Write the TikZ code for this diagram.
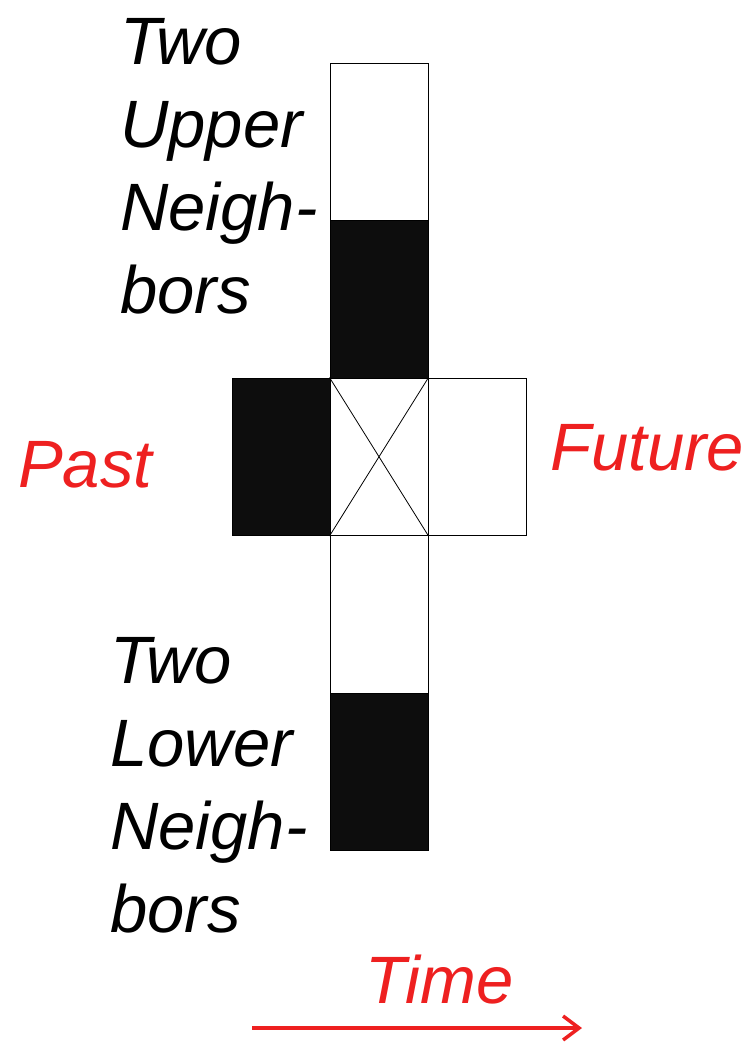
\documentclass[tikz,border=0pt]{standalone}
\usepackage{fontspec}
\setmainfont{Liberation Sans}
\usetikzlibrary{arrows.meta}

\definecolor{timered}{RGB}{238,32,32}
\tikzset{
  cell/.style={draw,line width=1pt,minimum width=98pt,minimum height=157.5pt,inner sep=0pt},
  filled/.style={cell,fill=black!95},
  word/.style={font=\fontsize{67}{83}\selectfont\itshape,inner sep=0pt,align=left},
  redword/.style={word,text=timered}
}

\begin{document}
\begin{tikzpicture}[x=1pt,y=-1pt]
  \useasboundingbox[fill=white] (0,0) rectangle (754,1044);

  % the column of cells
  \node[cell]   (up2)  at (379,141.75) {};
  \node[filled] (up1)  at (379,299.25) {};
  \node[cell]   (now)  at (379,456.75) {};
  \node[cell]   (lo1)  at (379,614.25) {};
  \node[filled] (lo2)  at (379,771.75) {};
  % past and future
  \node[filled] (past)   at (281,456.75) {};
  \node[cell]   (future) at (477,456.75) {};
  \draw[line width=.8pt] (now.north west) -- (now.south east)
                         (now.north east) -- (now.south west);

  % labels (base = last line)
  \node[word,anchor=base west] (uplab) at (120,313) {Two\\Upper\\Neigh-\\bors};
  \node[word,anchor=base west] (lolab) at (110,932) {Two\\Lower\\Neigh-\\bors};
  \node[redword,anchor=base west] (pastlab) at (18,487) {Past};
  \node[redword,anchor=base west] (futlab) at (550,470) {Future};
  \node[redword,anchor=base west] (timelab) at (365,1003) {Time};

  % time axis
  \coordinate (tstart) at (252,1028);
  \coordinate (tend) at (582,1028);
  \draw[timered,line width=3.5pt,-{Straight Barb[length=16pt,width=24pt]}] (tstart) -- (tend);
\end{tikzpicture}
\end{document}
